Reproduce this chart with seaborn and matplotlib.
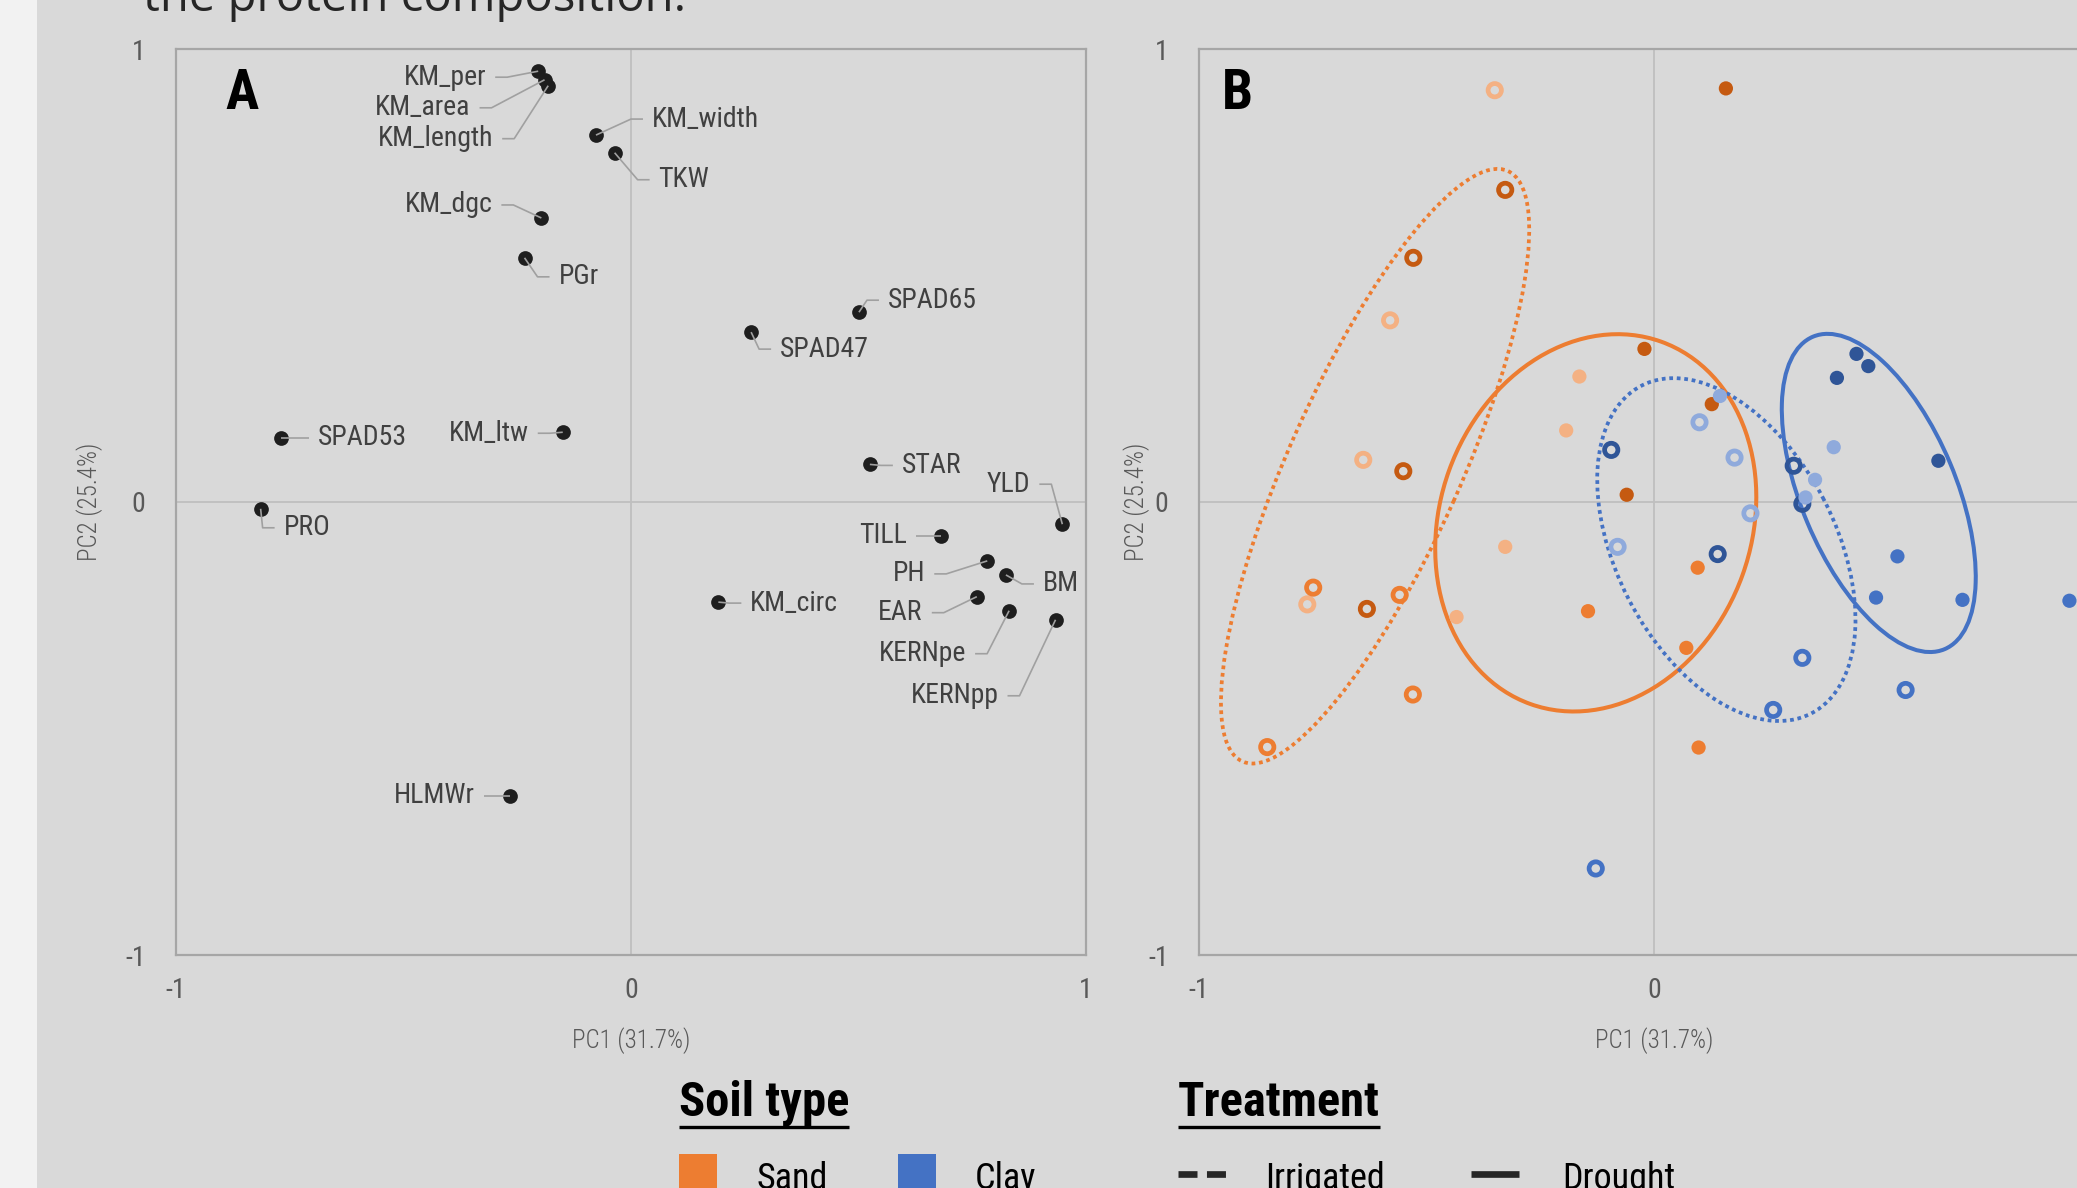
import os
import numpy as np
import pandas as pd
import matplotlib
matplotlib.use("Agg")
import matplotlib.pyplot as plt
import matplotlib.font_manager as fm
from matplotlib.patches import Ellipse, Rectangle
from matplotlib.lines import Line2D
import seaborn as sns

# ------------------------------------------------------------------ data
# Panel A: loadings of the measured traits on PC1 / PC2
variables = ["KM_per", "KM_area", "KM_length", "KM_width", "TKW", "KM_dgc",
             "PGr", "SPAD65", "SPAD47", "STAR", "YLD", "TILL", "PH", "BM",
             "EAR", "KERNpe", "KERNpp", "KM_circ", "SPAD53", "KM_ltw", "PRO",
             "HLMWr"]
load_pc1 = [-0.204, -0.190, -0.182, -0.077, -0.036, -0.197, -0.234, 0.501,
            0.264, 0.525, 0.948, 0.681, 0.783, 0.824, 0.760, 0.831, 0.933,
            0.192, -0.769, -0.150, -0.814, -0.267]
load_pc2 = [0.951, 0.932, 0.919, 0.810, 0.771, 0.627, 0.539, 0.419, 0.375,
            0.083, -0.049, -0.075, -0.130, -0.161, -0.209, -0.240, -0.260,
            -0.221, 0.142, 0.154, -0.015, -0.648]

# Panel B: sample scores on PC1 / PC2
score_pc1 = [0.158, -0.021, 0.127, -0.060,
             -0.164, -0.193, -0.327, -0.434,
             0.096, -0.145, 0.071, 0.098,
             0.445, 0.471, 0.402, 0.625,
             0.145, 0.395, 0.354, 0.333,
             0.535, 0.488, 0.678, 0.913,
             -0.350, -0.580, -0.639, -0.762,
             -0.327, -0.529, -0.551, -0.631,
             -0.749, -0.559, -0.530, -0.850,
             -0.094, 0.307, 0.326, 0.140,
             0.100, 0.177, 0.212, -0.080,
             0.326, 0.262, 0.553, -0.128]
score_pc2 = [0.913, 0.338, 0.216, 0.016,
             0.277, 0.158, -0.099, -0.254,
             -0.145, -0.241, -0.322, -0.542,
             0.327, 0.300, 0.274, 0.091,
             0.234, 0.121, 0.049, 0.010,
             -0.120, -0.211, -0.216, -0.218,
             0.909, 0.401, 0.093, -0.226,
             0.689, 0.539, 0.068, -0.236,
             -0.189, -0.205, -0.425, -0.541,
             0.115, 0.080, -0.004, -0.115,
             0.176, 0.098, -0.025, -0.099,
             -0.344, -0.459, -0.415, -0.809]
soil = (["Sand"] * 12 + ["Clay"] * 12) * 2
treatment = ["Drought"] * 24 + ["Irrigated"] * 24
subgroup = (["c"] * 4 + ["a"] * 4 + ["b"] * 4 + ["c"] * 4 + ["a"] * 4 + ["b"] * 4
            + ["a"] * 4 + ["c"] * 4 + ["b"] * 4 + ["c"] * 4 + ["a"] * 4 + ["b"] * 4)

# group ellipses: centre, full axis lengths, rotation (deg)
ell_soil = ["Sand", "Sand", "Clay", "Clay"]
ell_treatment = ["Irrigated", "Drought", "Irrigated", "Drought"]
ell_cx = [-0.613, -0.128, 0.159, 0.494]
ell_cy = [0.079, -0.046, -0.105, 0.020]
ell_width = [1.428, 0.850, 0.814, 0.748]
ell_height = [0.378, 0.685, 0.482, 0.340]
ell_angle = [65.9, 70.3, 117.2, 112.7]

axis_ticks = [-1, 0, 1]
tick_labels = ["-1", "0", "1"]
pc1_title = "PC1 (31.7%)"
pc2_title = "PC2 (25.4%)"
title_line = "the protein composition."
soil_levels = ["Sand", "Clay"]
treatment_levels = ["Irrigated", "Drought"]

# ---------------------------------------------------------------- styling
W, H = 2077, 1188
BG = "#D9D9D9"
STRIP = "#F2F2F2"
FRAME = "#A6A6A6"
ZERO = "#BFBFBF"
TICK_COL = "#595959"
LABEL_COL = "#404040"
DOT_COL = "#1E1E1E"
LEADER_COL = "#A0A0A0"
SOIL_COLORS = {"Sand": "#ED7D31", "Clay": "#4472C4"}
SHADES = {"Sand-a": "#F4B183", "Sand-b": "#ED7D31", "Sand-c": "#C55A11",
          "Clay-a": "#8FAADC", "Clay-b": "#4472C4", "Clay-c": "#2F5597"}

# label offsets from each loading point, in pixels (x right, y down)
LABEL_OFFSETS = {
    "KM_per": (-52, 6), "KM_area": (-74, 28), "KM_length": (-55, 53),
    "KM_width": (56, -16), "TKW": (44, 27), "KM_dgc": (-49, -13),
    "PGr": (34, 19), "SPAD65": (29, -12), "SPAD47": (29, 17),
    "STAR": (32, 1), "YLD": (-32, -40), "TILL": (-34, 0), "PH": (-62, 13),
    "BM": (37, 9), "EAR": (-54, 16), "KERNpe": (-43, 43),
    "KERNpp": (-57, 76), "KM_circ": (32, 1), "SPAD53": (37, 0),
    "KM_ltw": (-34, 1), "PRO": (23, 19), "HLMWr": (-35, 0),
}
GAP, STUB = 9, 12

sns.set_style("white")
plt.rcParams["axes.unicode_minus"] = False
plt.rcParams["font.family"] = ["Open Sans", "DejaVu Sans"]

FONT_FILES = {os.path.basename(f.fname).lower(): f.fname
              for f in fm.fontManager.ttflist}


def pick_font(files, family="DejaVu Sans", weight="normal"):
    for name in files:
        if name.lower() in FONT_FILES:
            return fm.FontProperties(fname=FONT_FILES[name.lower()])
    return fm.FontProperties(family=family, weight=weight)


def sized(fp, size):
    p = fp.copy()
    p.set_size(size)
    return p


F_REG = pick_font(["NotoSans-Condensed.ttf", "NotoSans-SemiCondensed.ttf",
                   "RobotoCondensed-Regular.ttf", "Roboto_Condensed-Regular.ttf",
                   "LiberationSansNarrow-Regular.ttf", "DejaVuSansCondensed.ttf"])
F_LIGHT = pick_font(["NotoSans-ExtraCondensedLight.ttf", "NotoSans-CondensedLight.ttf",
                     "RobotoCondensed-Light.ttf", "Roboto_Condensed-Light.ttf",
                     "NotoSans-ExtraCondensed.ttf", "NotoSans-Condensed.ttf",
                     "LiberationSansNarrow-Regular.ttf", "DejaVuSansCondensed.ttf"])
F_XBOLD = pick_font(["NotoSans-ExtraCondensedBold.ttf", "NotoSans-CondensedBold.ttf",
                     "RobotoCondensed-Bold.ttf", "Roboto_Condensed-Bold.ttf",
                     "LiberationSansNarrow-Bold.ttf", "DejaVuSansCondensed-Bold.ttf"],
                    weight="bold")
F_CBOLD = pick_font(["NotoSans-CondensedBold.ttf", "NotoSans-SemiCondensedBold.ttf",
                     "RobotoCondensed-Bold.ttf", "Roboto_Condensed-Bold.ttf",
                     "LiberationSansNarrow-Bold.ttf", "DejaVuSansCondensed-Bold.ttf"],
                    weight="bold")
F_TITLE = fm.FontProperties(family=["Open Sans", "DejaVu Sans"])


def fx(x):
    return x / W


def fy(y):
    return 1 - y / H


fig = plt.figure(figsize=(W / 100, H / 100), dpi=100, facecolor=BG)
fig.patches.append(Rectangle((0, 0), fx(37), 1, transform=fig.transFigure,
                             facecolor=STRIP, edgecolor="none", zorder=0))

axA = fig.add_axes([fx(176), fy(955), 910 / W, 906 / H])
axB = fig.add_axes([fx(1199), fy(955), 910 / W, 906 / H])


def style_axes(ax, ylabel_x):
    ax.set_facecolor(BG)
    ax.set_xlim(-1, 1)
    ax.set_ylim(-1, 1)
    ax.axhline(0, color=ZERO, lw=1.3, zorder=0.5)
    ax.axvline(0, color=ZERO, lw=1.3, zorder=0.5)
    for sp in ax.spines.values():
        sp.set_visible(True)
        sp.set_color(FRAME)
        sp.set_linewidth(1.6)
    ax.set_xticks(axis_ticks)
    ax.set_yticks(axis_ticks)
    ax.set_xticklabels(tick_labels)
    ax.set_yticklabels(tick_labels)
    ax.tick_params(axis="x", length=0, pad=16, colors=TICK_COL)
    ax.tick_params(axis="y", length=0, pad=22, colors=TICK_COL)
    for lab in ax.get_xticklabels() + ax.get_yticklabels():
        lab.set_fontproperties(sized(F_REG, 20))


def axis_titles(ax, ylabel_x):
    ax.set_xlabel(pc1_title, fontproperties=sized(F_LIGHT, 18), color=TICK_COL)
    ax.set_ylabel(pc2_title, fontproperties=sized(F_LIGHT, 18), color=TICK_COL)
    ax.xaxis.set_label_coords(0.5, -0.0949)
    ax.yaxis.set_label_coords(ylabel_x, 0.5)
    ax.yaxis.label.set_va("center")
    ax.xaxis.label.set_va("center")


style_axes(axA, -0.0945)
style_axes(axB, -0.0687)

# ------------------------------------------------------------ panel A
loadings = pd.DataFrame({"variable": variables, "PC1": load_pc1, "PC2": load_pc2})
sns.scatterplot(data=loadings, x="PC1", y="PC2", ax=axA, color=DOT_COL,
                s=112, linewidth=0, zorder=3, legend=False)
axis_titles(axA, -0.0945)

inv = axA.transData.inverted()
for name, x, y in zip(loadings["variable"], loadings["PC1"], loadings["PC2"]):
    dx, dy = LABEL_OFFSETS[name]
    sgn = 1 if dx > 0 else -1
    X, Y = axA.transData.transform((x, y))
    lab = inv.transform((X + dx, Y - dy))
    p1 = inv.transform((X + dx - sgn * GAP, Y - dy))
    p2 = inv.transform((X + dx - sgn * (GAP + STUB), Y - dy))
    axA.plot([p1[0], p2[0], x], [p1[1], p2[1], y], color=LEADER_COL, lw=1.2,
             zorder=4, solid_capstyle="butt")
    axA.text(lab[0], lab[1], name, ha="left" if dx > 0 else "right",
             va="center", fontproperties=sized(F_REG, 20), color=LABEL_COL,
             zorder=5)

axA.text(0.054, 0.934, "A", transform=axA.transAxes, va="baseline",
         fontproperties=sized(F_XBOLD, 40), color="black")

# ------------------------------------------------------------ panel B
scores = pd.DataFrame({"PC1": score_pc1, "PC2": score_pc2, "soil": soil,
                       "treatment": treatment, "subgroup": subgroup})
scores["shade"] = scores["soil"] + "-" + scores["subgroup"]

for s, t, cx, cy, w, h, a in zip(ell_soil, ell_treatment, ell_cx, ell_cy,
                                 ell_width, ell_height, ell_angle):
    if t == "Irrigated":
        e = Ellipse((cx, cy), w, h, angle=a, fill=False, ec=SOIL_COLORS[s],
                    lw=2.7, linestyle=(0, (1, 1)), zorder=2)
        e.set_capstyle("butt")
    else:
        e = Ellipse((cx, cy), w, h, angle=a, fill=False, ec=SOIL_COLORS[s],
                    lw=2.9, zorder=2)
    axB.add_patch(e)

irr = scores[scores["treatment"] == "Irrigated"]
sns.scatterplot(data=irr, x="PC1", y="PC2", hue="shade", palette=SHADES,
                ax=axB, s=92, linewidth=0, legend=False, zorder=3)
ring = axB.collections[-1]
ring_cols = ring.get_facecolors()
ring.set_facecolors("none")
ring.set_edgecolors(ring_cols)
ring.set_linewidths(3.4)

dro = scores[scores["treatment"] == "Drought"]
sns.scatterplot(data=dro, x="PC1", y="PC2", hue="shade", palette=SHADES,
                ax=axB, s=105, linewidth=0, legend=False, zorder=4)

axis_titles(axB, -0.0687)
axB.set_xlim(-1, 1)
axB.set_ylim(-1, 1)
# the right-hand end of panel B runs past the figure edge
axB.get_xticklabels()[-1].set_visible(False)

axB.text(0.0253, 0.934, "B", transform=axB.transAxes, va="baseline",
         fontproperties=sized(F_XBOLD, 40), color="black")

# ------------------------------------------------------------ title line
fig.text(fx(143), fy(11), title_line, va="baseline", ha="left",
         fontproperties=F_TITLE, fontsize=34, color="#262626")

# ------------------------------------------------------------ legend
head_soil = fig.text(fx(679), fy(1116), "Soil type", va="baseline",
                     fontproperties=sized(F_CBOLD, 35), color="black")
head_trt = fig.text(fx(1177.6), fy(1116), "Treatment", va="baseline",
                    fontproperties=sized(F_CBOLD, 35), color="black")
fig.canvas.draw()
for t in (head_soil, head_trt):
    bb = t.get_window_extent()
    fig.add_artist(Line2D([fx(bb.x0), fx(bb.x1)], [fy(1126.7)] * 2,
                          transform=fig.transFigure, color="black", lw=2.4,
                          solid_capstyle="butt"))

soil_patch_x = [678.8, 898.4]
soil_text_x = [756.8, 975]
for lvl, px, tx in zip(soil_levels, soil_patch_x, soil_text_x):
    fig.patches.append(Rectangle((fx(px), fy(1192)), 38 / W, 38 / H,
                                 transform=fig.transFigure,
                                 facecolor=SOIL_COLORS[lvl], edgecolor="none"))
    fig.text(fx(tx), fy(1189), lvl, va="baseline",
             fontproperties=sized(F_REG, 26), color="black")

trt_line_x = [1177.6, 1470.7]
trt_text_x = [1265.6, 1561.8]
for lvl, lx, tx in zip(treatment_levels, trt_line_x, trt_text_x):
    kw = dict(dashes=(2.85, 1.42)) if lvl == "Irrigated" else {}
    fig.add_artist(Line2D([fx(lx), fx(lx + 48)], [fy(1174.3)] * 2,
                          transform=fig.transFigure, color="#262626", lw=4.8,
                          solid_capstyle="butt", dash_capstyle="butt", **kw))
    fig.text(fx(tx), fy(1189), lvl, va="baseline",
             fontproperties=sized(F_REG, 26), color="black")

fig.savefig("out.png", dpi=100, facecolor=fig.get_facecolor())
